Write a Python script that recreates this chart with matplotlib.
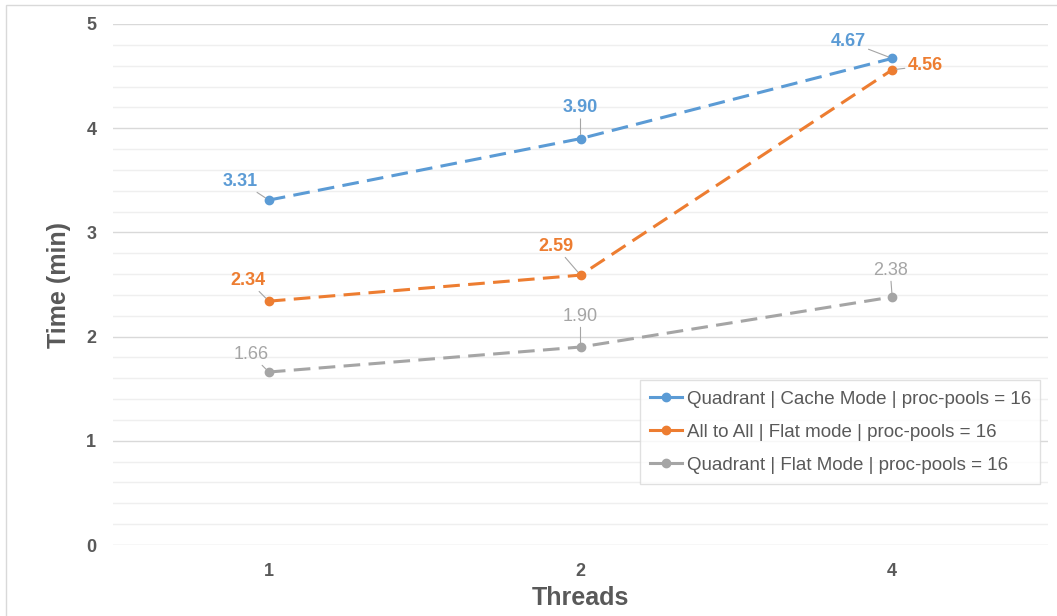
import matplotlib.pyplot as plt
from matplotlib.patches import Rectangle
from matplotlib.ticker import MultipleLocator

plt.rcParams['font.family'] = ['Liberation Sans', 'DejaVu Sans']
plt.rcParams['lines.scale_dashes'] = False

threads = ['1', '2', '4']
cache_quadrant = [3.31, 3.90, 4.67]
flat_all2all = [2.34, 2.59, 4.56]
flat_quadrant = [1.66, 1.90, 2.38]

series = [
    ('Quadrant | Cache Mode | proc-pools = 16', cache_quadrant, '#5B9BD5', 'bold',
     [(-29, 19), (0, 31), (-44, 17)]),
    ('All to All | Flat mode | proc-pools = 16', flat_all2all, '#ED7D31', 'bold',
     [(-21, 21), (-25, 29), (33, 4)]),
    ('Quadrant | Flat Mode | proc-pools = 16', flat_quadrant, '#A5A5A5', 'normal',
     [(-18, 18), (0, 31), (-2, 27)]),
]

fig = plt.figure(figsize=(10.57, 6.16), dpi=100)
fig.patches.append(Rectangle((6 / 1057, -0.05), 1.0, 1.05 - 5 / 616, transform=fig.transFigure,
                             fill=False, edgecolor='#D9D9D9', lw=1))
ax = fig.add_axes([113 / 1057, 71 / 616, 935 / 1057, 521 / 616])

x = list(range(len(threads)))
for name, vals, col, weight, offs in series:
    ax.plot(x, vals, color=col, lw=2.2, dashes=(12, 6), marker='o', markersize=6,
            label=name, zorder=3)
    for xi, v, off in zip(x, vals, offs):
        ax.annotate('%.2f' % v, (xi, v), xytext=off, textcoords='offset pixels',
                    ha='center', va='center', color=col, fontsize=13, fontweight=weight,
                    arrowprops=dict(arrowstyle='-', color='#A5A5A5', lw=0.8,
                                    shrinkA=0, shrinkB=3))

ax.set_xlim(-0.5, 2.5)
ax.set_ylim(0, 5)
ax.set_xticks(x)
ax.set_xticklabels(threads)
ax.yaxis.set_major_locator(MultipleLocator(1))
ax.yaxis.set_minor_locator(MultipleLocator(0.2))
ax.grid(axis='y', which='major', color='#D9D9D9', lw=1)
ax.grid(axis='y', which='minor', color='#EFEFEF', lw=1)
ax.set_axisbelow(True)
for s in ax.spines.values():
    s.set_visible(False)
ax.tick_params(axis='both', which='both', length=0, labelsize=13, labelcolor='#595959')
ax.tick_params(axis='y', pad=12)
ax.tick_params(axis='x', pad=13)
for lab in ax.get_xticklabels() + ax.get_yticklabels():
    lab.set_fontweight('bold')

ax.set_xlabel('Threads', fontsize=18, fontweight='bold', color='#595959', labelpad=4)
ax.set_ylabel('Time (min)', fontsize=18, fontweight='bold', color='#595959', labelpad=11)

leg = ax.legend(loc='lower left', bbox_to_anchor=(0.5636, 0.117, 0.428, 0.2035),
                mode='expand', frameon=True, fancybox=False, fontsize=13.5,
                labelcolor='#595959', handlelength=1.7, handletextpad=0.25,
                borderpad=0.55, labelspacing=0.85, borderaxespad=0)
leg.get_frame().set_edgecolor('#D9D9D9')
leg.get_frame().set_linewidth(1)
for h in leg.get_lines():
    h.set_linestyle('-')

fig.savefig('out.png', dpi=100)
